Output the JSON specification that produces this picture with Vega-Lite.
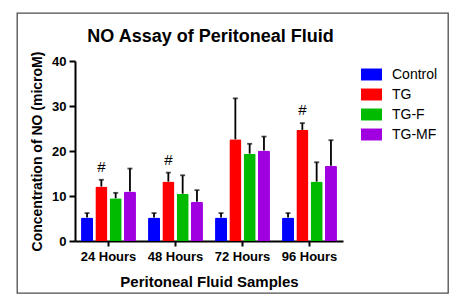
{
  "$schema": "https://vega.github.io/schema/vega-lite/v6.json",
  "width": 431,
  "height": 280,
  "autosize": {"type": "none"},
  "padding": {"left": 17, "top": 13, "right": 12, "bottom": 14},
  "background": "white",
  "config": {
    "font": "Liberation Sans",
    "axis": {"grid": false},
    "view": {"stroke": "#4d4d4d", "strokeWidth": 1.3, "fill": "white"}
  },
  "title": {
    "text": "NO Assay of Peritoneal Fluid",
    "font": "Liberation Sans",
    "fontSize": 18,
    "fontWeight": "bold",
    "color": "black",
    "anchor": "middle",
    "frame": "group",
    "baseline": "alphabetic",
    "offset": 0,
    "dx": -22,
    "dy": 47
  },
  "data": {
    "values": [
      {"time": "24 Hours", "group": "Control", "value": 5.2, "upper": 6.2, "sig": ""},
      {"time": "24 Hours", "group": "TG", "value": 12.1, "upper": 13.6, "sig": "#"},
      {"time": "24 Hours", "group": "TG-F", "value": 9.5, "upper": 10.7, "sig": ""},
      {"time": "24 Hours", "group": "TG-MF", "value": 11.0, "upper": 16.1, "sig": ""},
      {"time": "48 Hours", "group": "Control", "value": 5.2, "upper": 6.2, "sig": ""},
      {"time": "48 Hours", "group": "TG", "value": 13.2, "upper": 15.2, "sig": "#"},
      {"time": "48 Hours", "group": "TG-F", "value": 10.5, "upper": 14.6, "sig": ""},
      {"time": "48 Hours", "group": "TG-MF", "value": 8.7, "upper": 11.3, "sig": ""},
      {"time": "72 Hours", "group": "Control", "value": 5.2, "upper": 6.2, "sig": ""},
      {"time": "72 Hours", "group": "TG", "value": 22.6, "upper": 31.7, "sig": ""},
      {"time": "72 Hours", "group": "TG-F", "value": 19.4, "upper": 21.6, "sig": ""},
      {"time": "72 Hours", "group": "TG-MF", "value": 20.1, "upper": 23.2, "sig": ""},
      {"time": "96 Hours", "group": "Control", "value": 5.2, "upper": 6.2, "sig": ""},
      {"time": "96 Hours", "group": "TG", "value": 24.7, "upper": 26.2, "sig": "#"},
      {"time": "96 Hours", "group": "TG-F", "value": 13.2, "upper": 17.5, "sig": ""},
      {"time": "96 Hours", "group": "TG-MF", "value": 16.7, "upper": 22.4, "sig": ""}
    ]
  },
  "encoding": {
    "x": {
      "field": "time",
      "type": "nominal",
      "sort": null,
      "scale": {"range": [58, 326], "paddingInner": 0.18, "paddingOuter": 0.09},
      "axis": {
        "title": "Peritoneal Fluid Samples",
        "titleFont": "Liberation Sans",
        "titleFontSize": 15,
        "titleFontWeight": "bold",
        "titleColor": "black",
        "titlePadding": 11,
        "labelFont": "Liberation Sans",
        "labelFontSize": 13,
        "labelFontWeight": "bold",
        "labelColor": "black",
        "labelAngle": 0,
        "labelPadding": 4,
        "domainColor": "black",
        "domainWidth": 2,
        "tickColor": "black",
        "tickWidth": 2,
        "tickSize": 5,
        "offset": -52
      }
    },
    "xOffset": {
      "field": "group",
      "type": "nominal",
      "sort": null,
      "scale": {"paddingInner": 0.16, "paddingOuter": 0}
    }
  },
  "layer": [
    {
      "mark": {"type": "bar", "cornerRadiusTopLeft": 1.5, "cornerRadiusTopRight": 1.5},
      "encoding": {
        "y": {
          "field": "value",
          "type": "quantitative",
          "scale": {"domain": [0, 40], "range": [228, 48], "nice": false, "zero": true},
          "axis": {
            "title": "Concentration of NO (microM)",
            "titleFont": "Liberation Sans",
            "titleFontSize": 14,
            "titleFontWeight": "bold",
            "titleColor": "black",
            "titlePadding": 7,
            "labelFont": "Liberation Sans",
            "labelFontSize": 13,
            "labelFontWeight": "bold",
            "labelColor": "black",
            "labelPadding": 3,
            "values": [0, 10, 20, 30, 40],
            "domainColor": "black",
            "domainWidth": 2,
            "tickColor": "black",
            "tickWidth": 2,
            "tickSize": 6,
            "offset": -58
          }
        },
        "color": {
          "field": "group",
          "type": "nominal",
          "sort": null,
          "scale": {
            "domain": ["Control", "TG", "TG-F", "TG-MF"],
            "range": ["#0000FF", "#FF0000", "#00BB00", "#A000E0"]
          },
          "legend": {
            "title": null,
            "orient": "none",
            "legendX": 344,
            "legendY": 51,
            "symbolType": "M-1,-0.57L1,-0.57L1,0.57L-1,0.57Z",
            "symbolSize": 441,
            "symbolStrokeWidth": 0,
            "symbolOpacity": 1,
            "labelFont": "Liberation Sans",
            "labelFontSize": 14,
            "labelColor": "black",
            "labelOffset": 10,
            "rowPadding": 2
          }
        }
      }
    },
    {
      "mark": {"type": "rule", "color": "black", "strokeWidth": 1.8},
      "encoding": {
        "y": {"field": "value", "type": "quantitative"},
        "y2": {"field": "upper"}
      }
    },
    {
      "mark": {"type": "tick", "color": "black", "orient": "horizontal", "size": 5, "thickness": 1.8},
      "encoding": {
        "y": {"field": "upper", "type": "quantitative"}
      }
    },
    {
      "mark": {"type": "text", "color": "black", "fontSize": 15, "font": "Liberation Sans", "baseline": "bottom", "dy": -5},
      "encoding": {
        "y": {"field": "upper", "type": "quantitative"},
        "text": {"field": "sig"}
      }
    }
  ]
}
